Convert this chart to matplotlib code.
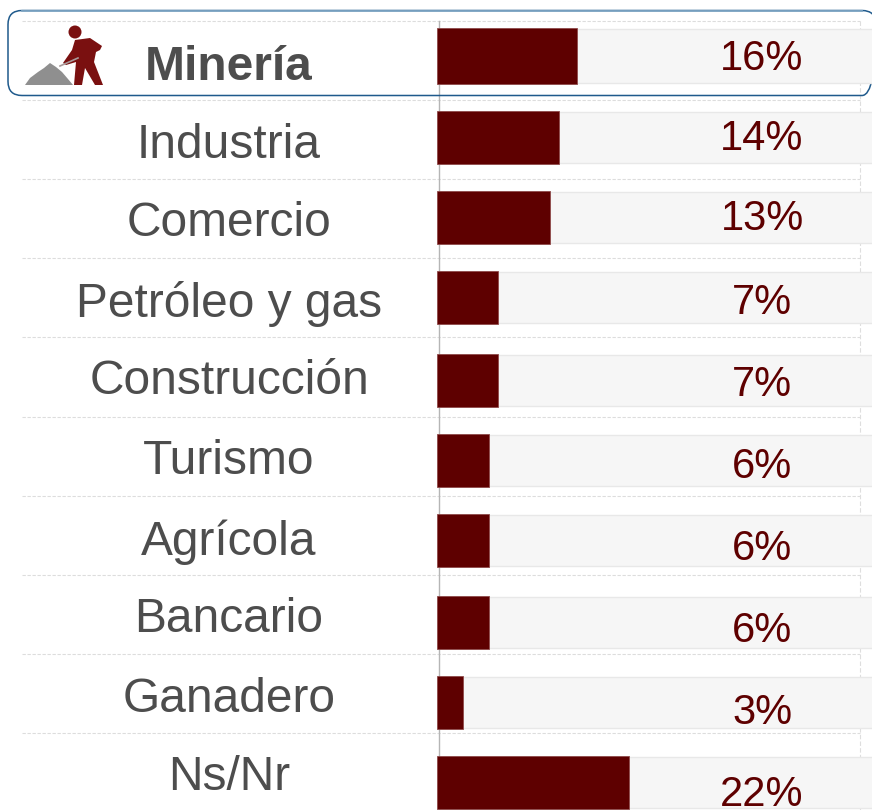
import matplotlib
matplotlib.use("Agg")
import matplotlib.pyplot as plt
from matplotlib.patches import FancyBboxPatch, Polygon, Circle

sectores = ["Minería", "Industria", "Comercio", "Petróleo y gas", "Construcción",
            "Turismo", "Agrícola", "Bancario", "Ganadero", "Ns/Nr"]
valores = [16, 14, 13, 7, 7, 6, 6, 6, 3, 22]

# layout in reference pixels
W, H = 872, 810
bar_top = [28, 111, 191, 271, 354, 434, 514, 596, 676, 756]
bar_bottom = [84, 164, 244, 324, 407, 487, 567, 649, 729, 809]
label_y = [63, 141, 219, 299, 377, 456, 537, 615, 695, 773]
pct_y = [55, 135, 215, 299, 381, 463, 545, 626, 709, 791]
grid_y = [21, 100, 179, 258, 337, 417, 496, 575, 654, 733]
BAR_X0 = 437
PX_POR_PUNTO = 8.73

plt.rcParams["font.family"] = ["Liberation Sans", "DejaVu Sans"]
GRIS = "#4d4d4d"
GUINDA = "#5e0000"

fig = plt.figure(figsize=(W / 100, H / 100), dpi=100)
ax = fig.add_axes([0, 0, 1, 1])
ax.set_xlim(0, W)
ax.set_ylim(H, 0)
ax.axis("off")

# barras sobre su propio eje de porcentajes
ax_b = fig.add_axes([BAR_X0 / W, 0, (W - BAR_X0) / W, 1])
ax_b.set_xlim(0, (W - BAR_X0) / PX_POR_PUNTO)
ax_b.set_ylim(H, 0)
ax_b.axis("off")
ax_b.patch.set_alpha(0)

for y in grid_y:
    ax.plot([22, 860], [y, y], color="#dddddd", lw=0.8, ls=(0, (3, 1.5)), zorder=1)
ax.plot([859.5, 859.5], [21, H], color="#dedede", lw=0.8, ls=(0, (4, 2)), zorder=4)

for nombre, v, t, b, ly, py in zip(sectores, valores, bar_top, bar_bottom, label_y, pct_y):
    alto = b - t
    centro = (t + b) / 2
    # carril gris de fondo
    ax_b.barh(centro, 60, height=alto - 2, color="#f6f6f6", edgecolor="#e8e8e8", lw=1, zorder=1)
    ax_b.barh(centro, v, height=alto, color=GUINDA, edgecolor="#8f4a4a", lw=0.6, zorder=3)
    ax.text(229, ly, nombre, ha="center", va="center_baseline", fontsize=34.5, color=GRIS,
            fontweight="bold" if nombre == "Minería" else "normal", zorder=5)
    ax_b.text((762 - BAR_X0) / PX_POR_PUNTO, py, f"{v}%", ha="center",
              va="center_baseline", fontsize=30, color=GUINDA, zorder=5)

ax.plot([439, 439], [21, H], color="#b5b5b5", lw=1, zorder=2)

# recuadro del sector destacado
caja = FancyBboxPatch((8, 10.5), 868, 85, boxstyle="round,pad=0,rounding_size=14",
                      fc="none", ec="#1f5a8c", lw=1.1, zorder=6)
ax.add_patch(caja)
ax.plot([22, 862], [10.5, 10.5], color="#7fa6c4", lw=1.3, zorder=7)

# icono del minero
ax.add_patch(Polygon([(25, 85), (30, 78), (38, 72), (44, 68), (50, 63), (56, 67), (62, 72), (68, 79), (73, 85)],
                     fc="#8f8f8f", ec="none", zorder=5))
ax.add_patch(Circle((75, 32), 6.5, fc="#7a1010", ec="none", zorder=5))
ax.add_patch(Polygon([(75, 40), (90, 38), (102, 46), (100, 50), (96, 52), (94, 62), (103, 85), (95, 85),
                      (85, 68), (82, 85), (74, 85), (76, 62), (66, 65), (63, 63), (72, 50)],
                     fc="#7a1010", ec="none", zorder=5))
ax.plot([60, 78], [66, 58], color="#a89a9a", lw=1.2, zorder=6)

fig.savefig("out.png", dpi=100)
